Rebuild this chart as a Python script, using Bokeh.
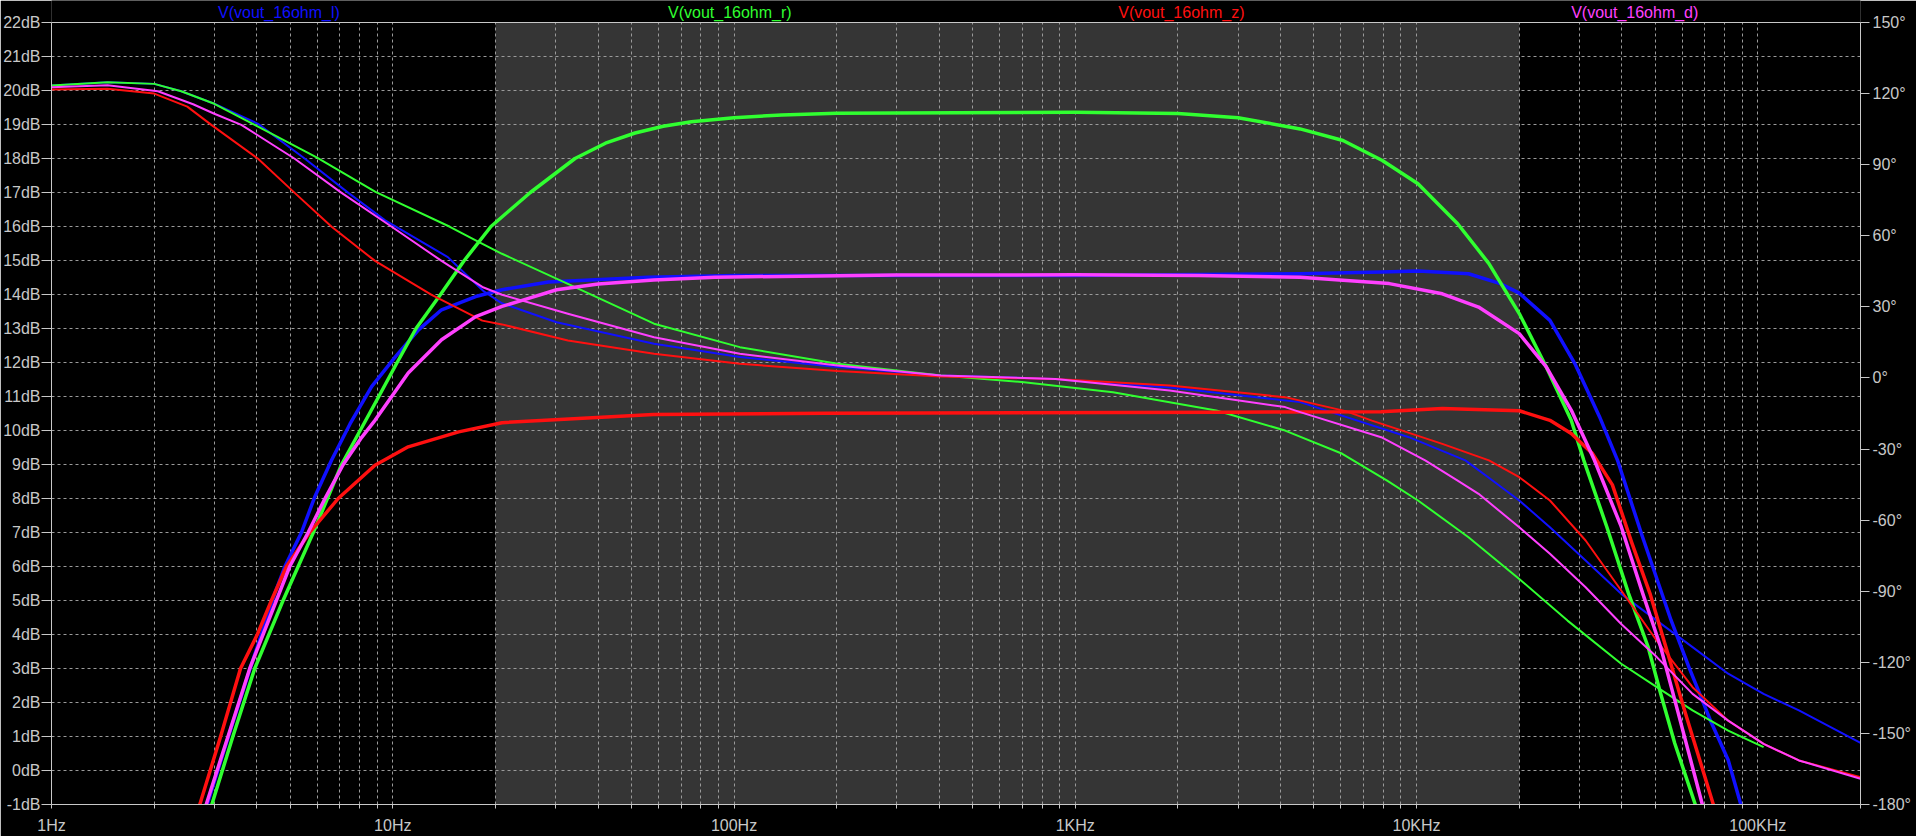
import numpy as np
from bokeh.plotting import figure
from bokeh.models import (Range1d, LinearAxis, FixedTicker, PrintfTickFormatter,
                          BoxAnnotation, Label, Span, CustomJSTickFormatter)
from bokeh.embed import file_html
from bokeh.resources import INLINE

# ---------------- data ----------------
series_names = ["V(vout_16ohm_l)", "V(vout_16ohm_r)", "V(vout_16ohm_z)", "V(vout_16ohm_d)"]
series_colors = ["#1010ff", "#30ff30", "#ff1010", "#ff40ff"]

# magnitude (dB) vs frequency (Hz)
l_mag_f = [2.86, 3.30, 3.82, 4.51, 4.83, 5.40, 5.91, 6.62, 7.50, 8.67, 10.2, 11.9, 13.9, 17.5, 20.9,
           28.6, 56, 101, 300, 1000, 2300, 4560, 7880, 10100, 14200, 17600, 20000, 24600, 29100,
           34400, 38800, 45900, 55700, 62800, 72600, 81900, 89200]
l_mag_db = [-1.0, 1.0, 3.0, 5.2, 6.0, 7.0, 8.05, 9.13, 10.2, 11.29, 12.18, 12.96, 13.55, 13.94, 14.14,
            14.37, 14.51, 14.56, 14.56, 14.56, 14.59, 14.61, 14.66, 14.69, 14.61, 14.32, 14.04, 13.24, 11.97,
            10.40, 9.13, 6.88, 4.42, 3.05, 1.48, 0.31, -1.0]

r_mag_f = [2.95, 3.40, 3.94, 4.77, 5.85, 7.08, 9.10, 10.3, 11.7, 13.8, 16.2, 19.4, 25.3, 34.2, 42,
           51.3, 62, 75, 100, 138, 200, 1000, 2000, 3000, 4560, 6090, 7940, 10100, 13200, 16300, 20000,
           24000, 28400, 30900, 36100, 41800, 47700, 51900, 57100, 65600]
r_mag_db = [-1.0, 1.0, 3.0, 5.0, 7.0, 9.0, 11.0, 12.0, 13.0, 14.0, 15.0, 16.0, 17.0, 18.0, 18.45,
            18.75, 18.95, 19.08, 19.2, 19.28, 19.33, 19.36, 19.32, 19.2, 18.87, 18.53, 17.94, 17.26, 16.08,
            14.91, 13.44, 11.87, 10.3, 9.13, 7.17, 5.21, 3.64, 2.27, 0.8, -1.0]

z_mag_f = [2.72, 3.13, 3.58, 4.01, 4.41, 4.88, 5.71, 6.92, 8.87, 11.1, 15.6, 20.9, 58, 185, 2790,
           7880, 11900, 20000, 24600, 28400, 32800, 37500, 42800, 48300, 54500, 61400, 74100]
z_mag_db = [-1.0, 1.0, 3.0, 4.0, 5.0, 6.0, 7.0, 8.0, 8.98, 9.52, 9.96, 10.23, 10.47, 10.51, 10.54,
            10.55, 10.65, 10.58, 10.30, 9.91, 9.32, 8.4, 6.68, 5.21, 3.44, 1.68, -1.0]

d_mag_f = [2.84, 3.29, 3.81, 4.56, 4.99, 5.65, 6.33, 7.16, 8.11, 8.87, 9.93, 11.1, 13.9, 17.5, 20.9,
           23.8, 30.2, 40, 58.2, 88, 300, 1000, 2300, 4560, 8320, 11900, 15200, 20000, 24000,
           28400, 33200, 39800, 46000, 51900, 58500, 68800]
d_mag_db = [-1.0, 1.0, 3.0, 5.0, 6.0, 7.0, 8.0, 9.0, 9.8, 10.3, 11.0, 11.69, 12.67, 13.35, 13.65,
            13.82, 14.14, 14.31, 14.43, 14.51, 14.57, 14.58, 14.56, 14.51, 14.32, 14.02, 13.63, 12.85, 11.87,
            10.6, 9.13, 7.17, 5.21, 3.64, 1.68, -1.0]

# phase (degrees) vs frequency (Hz)
l_ph_f = [1, 1.46, 2.0, 2.4, 3.0, 4.03, 5.53, 7.41, 9.5, 14.5, 18.5, 20.9, 30.2, 58.3, 104, 201, 404,
          875, 1890, 4560, 9500, 13900, 16700, 20000, 24600, 31300, 39800, 50600, 64400, 81900,
          104000, 132000, 200000]
l_ph_deg = [123.4, 124.8, 124.1, 121.0, 115.7, 107.2, 92.5, 78.1, 66.5, 51.0, 36.5, 31.5, 23.5, 14.4,
            8.8, 4.6, 1.0, -0.4, -4.0, -10.2, -25.0, -34.8, -43.3, -51.7, -63.0, -77.0, -91.1, -102.4,
            -113.6, -124.8, -133.3, -140.3, -154.0]

r_ph_f = [1, 1.46, 2.0, 2.4, 3.0, 3.94, 6.0, 8.9, 14.7, 17.9, 20.9, 32.6, 58.3, 104, 201, 404, 708,
          1290, 2590, 4120, 6060, 8200, 10100, 14200, 20000, 27700, 39800, 50600, 64400, 81900, 104000]
r_ph_deg = [123.4, 124.8, 124.1, 121.0, 115.7, 106.8, 93.0, 78.5, 63.8, 57.3, 52.4, 39.7, 22.9, 13.0,
            6.0, 1.0, -1.8, -6.0, -13.7, -22.2, -32.0, -43.3, -51.7, -67.2, -84.8, -102.4, -120.6,
            -130.5, -140.3, -148.8, -155.8]

z_ph_f = [1, 1.46, 2.0, 2.5, 2.94, 4.03, 5.16, 6.62, 8.87, 13.0, 18.3, 20.9, 32.6, 58.3, 104, 201, 404,
          875, 1890, 4120, 6200, 7400, 11900, 16300, 20000, 24600, 31300, 39800, 50600, 64400, 81900,
          104000, 132000, 200000]
z_ph_deg = [121.7, 122.0, 120.0, 114.5, 106.8, 92.5, 78.1, 63.8, 49.4, 35.1, 24.2, 22.6, 15.8, 10.2,
            6.0, 2.9, 0.6, -0.4, -3.2, -8.1, -14.0, -18.0, -27.8, -34.8, -41.9, -51.7, -68.6, -89.7,
            -110.9, -130.5, -144.6, -154.4, -161.4, -168.5]

d_ph_f = [1, 1.46, 2.05, 2.6, 3.0, 3.6, 5.16, 7.08, 9.93, 13.9, 18.3, 20.9, 32.6, 58.3, 104, 201, 404,
          875, 1890, 4120, 4560, 7880, 10600, 13200, 15200, 20000, 24600, 31300, 39800, 50600, 64400,
          81900, 104000, 132000, 200000]
d_ph_deg = [122.7, 123.5, 121.0, 115.5, 111.5, 106.8, 92.5, 78.1, 63.8, 49.4, 38.4, 35.1, 27.1, 17.2,
            10.2, 5.3, 1.0, -0.4, -5.3, -12.3, -14.4, -25.0, -34.8, -43.3, -48.9, -63.0, -74.2, -88.3,
            -103.8, -117.8, -133.3, -144.6, -154.4, -161.4, -169.1]

x_major_ticks = [1, 10, 100, 1000, 10000, 100000]
x_tick_labels = ["1Hz", "10Hz", "100Hz", "1KHz", "10KHz", "100KHz"]
db_ticks = list(range(-1, 23))
deg_ticks = list(range(-180, 151, 30))
band_lo, band_hi = 20, 20000

# ---------------- styling / layout ----------------
X_MIN, X_MAX = 1, 200000
DB_MIN, DB_MAX = -1, 22
DEG_MIN, DEG_MAX = -180, 150
FONT = "Liberation Sans"
TXT = "#c8c8c8"
GRID = "#9a9a9a"
W, H = 1916, 836
BL, BR, BB = 49, 56, 32
STRIP = 22                     # title strip (inside the frame, above the 22dB line)
plot_h = H - BB - STRIP        # pixel height of the -1..22 dB area
db_per_px = (DB_MAX - DB_MIN) / plot_h
deg_per_px = (DEG_MAX - DEG_MIN) / plot_h

p = figure(width=W, height=H, x_axis_type="log",
           x_range=Range1d(X_MIN, X_MAX),
           y_range=Range1d(DB_MIN, DB_MAX + STRIP * db_per_px),
           output_backend="svg", toolbar_location=None,
           background_fill_color="black", border_fill_color="black",
           min_border_left=BL, min_border_right=BR, min_border_top=0, min_border_bottom=BB)
p.outline_line_color = None
p.extra_y_ranges = {"phase": Range1d(DEG_MIN, DEG_MAX + STRIP * deg_per_px)}

minor = [m * 10 ** k for k in range(0, 6) for m in range(2, 10) if m * 10 ** k <= X_MAX]
xticker = FixedTicker(ticks=x_major_ticks, minor_ticks=minor)

xa = p.xaxis[0]
xa.ticker = xticker
xa.formatter = CustomJSTickFormatter(args=dict(vals=x_major_ticks, labs=x_tick_labels),
                                     code="const i = vals.indexOf(tick); return i >= 0 ? labs[i] : '';")
xa.axis_line_color = TXT
xa.major_tick_line_color = TXT
xa.minor_tick_line_color = TXT
xa.major_tick_out = 4
xa.major_tick_in = 0
xa.minor_tick_out = 4
xa.minor_tick_in = 0
xa.major_label_standoff = 8
xa.major_label_text_color = TXT
xa.major_label_text_font = FONT
xa.major_label_text_font_size = "16px"

ya = p.yaxis[0]
ya.ticker = FixedTicker(ticks=db_ticks)
ya.bounds = (DB_MIN, DB_MAX)
ya.formatter = PrintfTickFormatter(format="%ddB")
ya.axis_line_color = TXT
ya.major_tick_line_color = TXT
ya.minor_tick_line_color = None
ya.major_tick_out = 10
ya.major_tick_in = 0
ya.major_label_standoff = 1
ya.major_label_text_color = TXT
ya.major_label_text_font = FONT
ya.major_label_text_font_size = "16px"

ra = LinearAxis(y_range_name="phase", ticker=FixedTicker(ticks=deg_ticks),
                formatter=PrintfTickFormatter(format="%d\u00b0"), bounds=(DEG_MIN, DEG_MAX))
ra.axis_line_color = TXT
ra.major_tick_line_color = TXT
ra.minor_tick_line_color = None
ra.major_tick_out = 9
ra.major_tick_in = 0
ra.major_label_standoff = 3
ra.major_label_text_color = TXT
ra.major_label_text_font = FONT
ra.major_label_text_font_size = "16px"
p.add_layout(ra, "right")

for g in (p.xgrid[0], p.ygrid[0]):
    g.grid_line_color = GRID
    g.grid_line_dash = "3 3"
    g.grid_line_width = 1
p.xgrid[0].ticker = xticker
p.xgrid[0].minor_grid_line_color = GRID
p.xgrid[0].minor_grid_line_dash = "3 3"
p.ygrid[0].ticker = FixedTicker(ticks=db_ticks)

band = BoxAnnotation(left=band_lo, right=band_hi, top=DB_MAX, fill_color="#353535", fill_alpha=1.0,
                     line_color=None, level="underlay")
strip_cover = BoxAnnotation(bottom=DB_MAX, fill_color="black", fill_alpha=1.0,
                            line_color=None, level="underlay")
p.center = [band] + list(p.center) + [strip_cover]
p.add_layout(Span(location=DB_MAX, dimension="width", line_color=TXT, line_width=1))

mags = [(l_mag_f, l_mag_db), (r_mag_f, r_mag_db), (z_mag_f, z_mag_db), (d_mag_f, d_mag_db)]
phs = [(l_ph_f, l_ph_deg), (r_ph_f, r_ph_deg), (z_ph_f, z_ph_deg), (d_ph_f, d_ph_deg)]
for (mf, md), (pf, pd), c in zip(mags, phs, series_colors):
    p.line(mf, md, line_color=c, line_width=3.5, line_join="round")
    p.line(pf, pd, line_color=c, line_width=2, y_range_name="phase", line_join="round")

# trace titles in the strip above the 22dB line
title_freqs = [4.64, 97.2, 2046, 43600]
title_y = DB_MAX + 10.5 * db_per_px
for name, c, fx in zip(series_names, series_colors, title_freqs):
    p.add_layout(Label(x=fx, y=title_y, text=name, text_align="center",
                       text_baseline="middle", text_color=c, text_font=FONT,
                       text_font_size="16px"))

open("out.html", "w").write(file_html(p, INLINE))
